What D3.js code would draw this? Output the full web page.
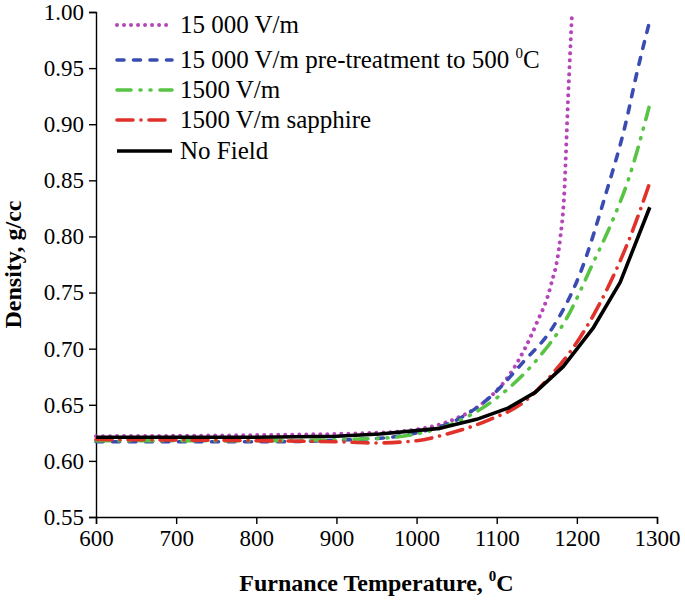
<!DOCTYPE html>
<html>
<head>
<meta charset="utf-8">
<script src="https://cdn.jsdelivr.net/npm/d3@7"></script>
<style>
  body { margin: 0; background: #fff; }
  text { font-family: "Liberation Serif", "Times New Roman", serif; fill: #000; }
</style>
</head>
<body>
<div id="chart"></div>
<script>
// data
let tempsHigh = [600, 800, 950, 1000, 1050, 1080, 1120, 1150, 1167, 1179, 1184, 1189, 1194];
let densHigh = [0.622, 0.623, 0.625, 0.628, 0.638, 0.650, 0.681, 0.723, 0.755, 0.797, 0.835, 0.922, 1.000];

let tempsPre = [600, 800, 950, 1000, 1054, 1092, 1133, 1170, 1204, 1237, 1260, 1275, 1292];
let densPre = [0.617, 0.617, 0.620, 0.625, 0.638, 0.657, 0.688, 0.719, 0.767, 0.840, 0.898, 0.946, 0.995];

let tempsLow = [600, 800, 950, 1000, 1054, 1112, 1150, 1188, 1220, 1245, 1264, 1290];
let densLow = [0.618, 0.618, 0.620, 0.624, 0.636, 0.663, 0.690, 0.728, 0.776, 0.815, 0.850, 0.915];

let tempsSapph = [600, 800, 900, 950, 1000, 1038, 1092, 1133, 1170, 1204, 1237, 1270, 1291];
let densSapph = [0.619, 0.618, 0.617, 0.616, 0.618, 0.624, 0.637, 0.652, 0.678, 0.710, 0.752, 0.806, 0.848];

let tempsNone = [600, 700, 800, 900, 954, 1029, 1075, 1114, 1148, 1183, 1220, 1254, 1291];
let densNone = [0.621, 0.621, 0.621, 0.622, 0.624, 0.629, 0.637, 0.647, 0.661, 0.684, 0.718, 0.759, 0.826];

let seriesNames = ["15 000 V/m", "15 000 V/m pre-treatment to 500 ", "1500 V/m", "1500 V/m sapphire", "No Field"];
let xTicks = [600, 700, 800, 900, 1000, 1100, 1200, 1300];
let yTicks = [0.55, 0.60, 0.65, 0.70, 0.75, 0.80, 0.85, 0.90, 0.95, 1.00];

// step 1 dimensions
let margin = {top: 12, right: 28, bottom: 88, left: 96},
    width = 685 - margin.left - margin.right,
    height = 605 - margin.top - margin.bottom;

let svg = d3.select("#chart")
    .append("svg")
    .attr("width", width + margin.left + margin.right)
    .attr("height", height + margin.top + margin.bottom)
    .append("g")
    .attr("transform", "translate(" + margin.left + "," + margin.top + ")");

// step 2 scales
let x = d3.scaleLinear().domain([600, 1300]).range([0, width]);
let y = d3.scaleLinear().domain([0.55, 1.00]).range([height, 0]);

// step 3 axes
let xAxis = svg.append("g")
    .attr("transform", "translate(0," + height + ")")
    .call(d3.axisBottom(x).tickValues(xTicks).tickSize(7).tickPadding(6).tickFormat(d3.format("d")));

let yAxis = svg.append("g")
    .call(d3.axisLeft(y).tickValues(yTicks).tickSize(7).tickPadding(5).tickFormat(d3.format(".2f")));

[xAxis, yAxis].forEach(a => {
    a.select(".domain").attr("stroke", "#000").attr("stroke-width", 1.4);
    a.selectAll(".tick line").attr("stroke", "#000").attr("stroke-width", 1.4);
    a.selectAll(".tick text")
        .attr("font-family", "Liberation Serif, serif")
        .attr("font-size", 23)
        .attr("fill", "#000");
});

// step 4 series
let series = [
    {name: seriesNames[0], t: tempsHigh, d: densHigh, color: "#b546b8", dash: "0.01 7", curve: d3.curveMonotoneX, w: 4},
    {name: seriesNames[1], t: tempsPre, d: densPre, color: "#3a4cb2", dash: "7 9.5", curve: d3.curveMonotoneX, w: 3.6},
    {name: seriesNames[2], t: tempsLow, d: densLow, color: "#58c443", dash: "14 9 1 9 1 9", curve: d3.curveMonotoneX, w: 3.6},
    {name: seriesNames[3], t: tempsSapph, d: densSapph, color: "#e0322a", dash: "16 8 0.01 8", curve: d3.curveMonotoneX, w: 3.6},
    {name: seriesNames[4], t: tempsNone, d: densNone, color: "#000", dash: null, curve: d3.curveLinear, w: 3.6}
];

series.forEach(s => {
    let line = d3.line()
        .x((d, i) => x(s.t[i]))
        .y(d => y(d))
        .curve(s.curve);
    svg.append("path")
        .datum(s.d)
        .attr("fill", "none")
        .attr("stroke", s.color)
        .attr("stroke-width", s.w)
        .attr("stroke-linecap", s.dash ? "round" : "butt")
        .attr("stroke-linejoin", "round")
        .attr("stroke-dasharray", s.dash)
        .attr("d", line);
});

// step 5 legend
let legendRows = [13, 48, 78, 108, 139];
let legend = svg.append("g")
    .selectAll("g")
    .data(series)
    .enter()
    .append("g")
    .attr("transform", (d, i) => "translate(21," + legendRows[i] + ")");

legend.append("line")
    .attr("x1", 0).attr("x2", 55)
    .attr("stroke", d => d.color)
    .attr("stroke-width", d => d.w)
    .attr("stroke-linecap", d => d.dash ? "round" : "butt")
    .attr("stroke-dasharray", d => d.dash);

let legendText = legend.append("text")
    .attr("x", 63)
    .attr("y", 8)
    .attr("font-size", 25)
    .text(d => d.name);

legendText.filter((d, i) => i === 1).each(function () {
    let t = d3.select(this);
    t.append("tspan").attr("font-size", 15).attr("dy", -10).text("0");
    t.append("tspan").attr("dy", 10).text("C");
});

// step 6 axis titles
let xTitle = svg.append("text")
    .attr("x", width / 2)
    .attr("y", height + 74)
    .attr("text-anchor", "middle")
    .attr("font-weight", "bold")
    .attr("font-size", 24)
    .text("Furnance Temperature, ");
xTitle.append("tspan").attr("font-size", 15).attr("dy", -10).text("0");
xTitle.append("tspan").attr("dy", 10).text("C");

svg.append("text")
    .attr("transform", "translate(" + (-margin.left + 21) + "," + (height / 2) + ") rotate(-90)")
    .attr("text-anchor", "middle")
    .attr("font-weight", "bold")
    .attr("font-size", 24)
    .text("Density, g/cc");
</script>
</body>
</html>
